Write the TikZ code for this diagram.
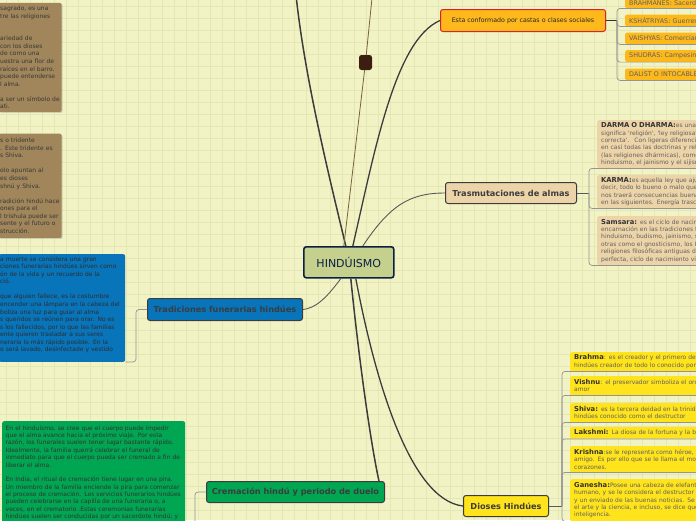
\documentclass[tikz,border=0pt]{standalone}
\usepackage{fontspec}
\setmainfont{DejaVu Sans}
\usetikzlibrary{positioning,calc,shadows}
\definecolor{PaperBg}{RGB}{242,243,196}
\definecolor{GridLn}{RGB}{228,231,180}
\definecolor{CoreFill}{RGB}{196,208,140}
\definecolor{CoreLine}{RGB}{12,32,70}
\definecolor{CasteOrange}{RGB}{253,184,28}
\definecolor{CasteRed}{RGB}{214,35,48}
\definecolor{SoulTan}{RGB}{236,212,168}
\definecolor{FuneralBlue}{RGB}{8,116,186}
\definecolor{CremGreen}{RGB}{0,166,82}
\definecolor{GodYellow}{RGB}{255,227,27}
\definecolor{SymbolBrown}{RGB}{160,134,90}
\definecolor{KnotBrown}{RGB}{60,30,16}
\definecolor{InkGray}{RGB}{60,60,62}
\definecolor{ThreadBrown}{RGB}{120,96,64}
\newcommand{\leadword}[1]{{\fontsize{6.8}{7.4}\selectfont\bfseries\color{black!80}#1}}
\tikzset{
	topic/.style={draw=InkGray,line width=1pt,rounded corners=2.5pt,inner sep=0pt,anchor=north west,
		font=\bfseries\fontsize{8.2}{9}\selectfont,text=InkGray},
	leaf/.style={rounded corners=2pt,inner xsep=4pt,inner ysep=0pt,anchor=north west,align=left,
		text width=220pt,font=\fontsize{6}{7.4}\selectfont,text=black!62},
	note/.style={rounded corners=2pt,inner xsep=1.5pt,anchor=north west,align=left,
		font=\fontsize{6}{7.57}\selectfont},
	link/.style={draw=InkGray,line width=1.5pt},
	twig/.style={draw=black!65,line width=0.9pt},
	thread/.style={draw=ThreadBrown,line width=0.8pt},
	bracket/.style={draw=black!42,line width=0.7pt,rounded corners=3pt},
}
\begin{document}
\begin{tikzpicture}[x=1pt,y=-1pt]
	\useasboundingbox (0,0) rectangle (696,520);
	\clip (0,0) rectangle (696,520);
	\fill[PaperBg] (0,0) rectangle (696,520);
	\foreach \gx in {6,18,...,696} \draw[GridLn,line width=0.6pt] (\gx,0) -- (\gx,520);
	\foreach \gy in {6,18,...,520} \draw[GridLn,line width=0.6pt] (0,\gy) -- (696,\gy);

	% main topics
	\node[topic,fill=CoreFill,draw=CoreLine,line width=1.6pt,minimum width=90pt,minimum height=31pt,
		font=\fontsize{11}{13}\selectfont,text=CoreLine] (core) at (303,246) {HINDÚISMO};
	\node[topic,fill=CasteOrange,draw=CasteRed,minimum width=165pt,minimum height=22pt,
		font=\fontsize{6.3}{8}\selectfont,text=black!85] (castes) at (440,9) {Esta conformado por castas o clases sociales};
	\node[topic,fill=SoulTan,minimum width=131pt,minimum height=21pt] (souls) at (445,182) {Trasmutaciones de almas};
	\node[topic,fill=FuneralBlue,minimum width=155pt,minimum height=22pt] (funeral) at (147,298) {Tradiciones funerarias hindúes};
	\node[topic,fill=CremGreen,minimum width=178pt,minimum height=21pt] (cremation) at (206,481) {Cremación hindú y periodo de duelo};
	\node[topic,fill=GodYellow,minimum width=85pt,minimum height=21pt] (gods) at (463,495) {Dioses Hindúes};
	\node[fill=KnotBrown,rounded corners=2.5pt,minimum width=13pt,minimum height=15pt,inner sep=0pt] (knot) at (365.5,62.5) {};
	\coordinate (offTopLeft) at (296,-5);
	\coordinate (offTopMid) at (372,-2);

	% castes
	\node[leaf,fill=CasteOrange,minimum height=11pt,font=\fontsize{6.4}{7}\selectfont] (brahmanes) at (625,-3) {BRAHMANES: Sacerdotes};
	\node[leaf,fill=CasteOrange,minimum height=11.7pt,font=\fontsize{6.4}{7}\selectfont] (kshatriyas) at (625,14.3) {KSHÁTRIYAS: Guerreros};
	\node[leaf,fill=CasteOrange,minimum height=11.7pt,font=\fontsize{6.4}{7}\selectfont] (vaishyas) at (625,32.3) {VAISHYAS: Comerciantes};
	\node[leaf,fill=CasteOrange,minimum height=11.7pt,font=\fontsize{6.4}{7}\selectfont] (shudras) at (625,50) {SHUDRAS: Campesinos};
	\node[leaf,fill=CasteOrange,minimum height=11.7pt,font=\fontsize{6.4}{7}\selectfont] (dalist) at (625,68.3) {DALIST O INTOCABLES};

	% souls
	\node[leaf,fill=SoulTan,minimum height=48pt] (dharma) at (597,120) {\leadword{DARMA O DHARMA:}es una palabra sánscrita que\\
		significa \textquotesingle religión\textquotesingle, \textquotesingle ley religiosa\textquotesingle\ o \textquotesingle conducta\\
		correcta\textquotesingle.~ Con ligeras diferencias se usa\\
		en casi todas las doctrinas y religiones de la India\\
		(las religiones dhármicas), como el budismo, el\\
		hinduismo, el jainismo y el sijismo.};
	\node[leaf,fill=SoulTan,minimum height=33pt] (karma) at (597,175) {\leadword{KARMA:}es aquella ley que ajusta el efecto a su causa, es\\
		decir, todo lo bueno o malo que hacemos en esta vida\\
		nos traerá consecuencias buenas o malas en esta o\\
		en las siguientes. Energía trascendente.};
	\node[leaf,fill=SoulTan,minimum height=49pt] (samsara) at (597,216) {\leadword{Samsara:} es el ciclo de nacimiento, vida, muerte y\\
		encarnación en las tradiciones filosóficas de la India\\
		hinduismo, budismo, jainismo, sijismo y\\
		otras como el gnosticismo, los Rosacruces y las\\
		religiones filosóficas antiguas de la Grecia\\
		perfecta, ciclo de nacimiento vida y muerte.};

	% gods
	\node[leaf,fill=GodYellow,minimum height=19pt] (brahma) at (570,352) {\leadword{Brahma}: es el creador y el primero de la trimurti\\
		hindúes creador de todo lo conocido por el hombre};
	\node[leaf,fill=GodYellow,minimum height=19pt] (vishnu) at (570,376) {\leadword{Vishnu}: el preservador simboliza el orden y el\\
		amor};
	\node[leaf,fill=GodYellow,minimum height=19pt] (shiva) at (570,403) {\leadword{Shiva:} es la tercera deidad en la trinidad de los\\
		hindúes conocido como el destructor};
	\node[leaf,fill=GodYellow,minimum height=11.5pt] (lakshmi) at (570,427) {\leadword{Lakshmi:} La diosa de la fortuna y la belleza};
	\node[leaf,fill=GodYellow,minimum height=26pt] (krishna) at (570,446) {\leadword{Krishna}:se le representa como héroe, líder y\\
		amigo. Es por ello que se le llama el morador de los\\
		corazones.};
	\node[leaf,fill=GodYellow,minimum height=42pt] (ganesha) at (570,479) {\leadword{Ganesha:}Posee una cabeza de elefante y cuerpo\\
		humano, y se le considera el destructor de obstáculos\\
		y un enviado de las buenas noticias. Se le asocia con\\
		el arte y la ciencia, e incluso, se dice que otorga\\
		inteligencia.};

	% notes on the left
	\node[note,fill=SymbolBrown,text=black!78,inner ysep=3pt,text width=60pt,
		drop shadow={shadow xshift=1pt,shadow yshift=-1pt,opacity=0.3}] (lotusNote) at (-1.5,2.7) {sagrado, es una\\
		tre las religiones\\[15.14pt]
		ariedad de\\
		con los dioses\\
		de como una\\
		uestra una flor de\\
		raíces en el barro.\\
		 puede entenderse\\
		l alma.\\[7.57pt]
		a ser un símbolo de\\
		ati.};
	\node[note,fill=SymbolBrown,text=black!78,inner ysep=4.4pt,text width=60pt,
		drop shadow={shadow xshift=1pt,shadow yshift=-1pt,opacity=0.3}] (trishulaNote) at (-1.5,133.5) {s o tridente\\
		. Este tridente es\\
		s Shiva.\\[7.57pt]
		olo apuntan al\\
		es dioses\\
		shnú y Shiva.\\[7.57pt]
		radición hindú hace\\
		ones para el\\
		l trishula puede ser\\
		sente y el futuro o\\
		strucción.};
	\node[note,fill=FuneralBlue,text=black!82,inner ysep=2.3pt,text width=123.5pt] (funeralNote) at (-1.5,254) {a muerte se considera una gran\\
		ciones funerarias hindúes sirven como\\
		ón de la vida y un recuerdo de la\\
		ció.\\[7.57pt]
		que alguien fallece, es la costumbre\\
		encender una lámpara en la cabeza del\\
		boliza una luz para guiar al alma\\
		s queridos se reúnen para orar. No es\\
		s los fallecidos, por lo que las familias\\
		ente quieren trasladar a sus seres\\
		neraria lo más rápido posible. En la\\
		o será lavado, desinfectado y vestido\\
		\mbox{}};
	\node[note,fill=CremGreen,text=black!80,inner xsep=3.5pt,inner ysep=4.5pt,text width=176pt,
		font=\fontsize{6}{7.35}\selectfont] (cremationNote) at (2,421) {En el hinduismo, se cree que el cuerpo puede impedir\\
		que el alma avance hacia el próximo viaje. Por esta\\
		razón, los funerales suelen tener lugar bastante rápido.\\
		Idealmente, la familia querrá celebrar el funeral de\\
		inmediato para que el cuerpo pueda ser cremado a fin de\\
		liberar el alma.\\[7.35pt]
		En India, el ritual de cremación tiene lugar en una pira.\\
		Un miembro de la familia enciende la pira para comenzar\\
		el proceso de cremación. Los servicios funerarios hindúes\\
		pueden celebrarse en la capilla de una funeraria o, a\\
		veces, en el crematorio .Estas ceremonias funerarias\\
		hindúes suelen ser conducidas por un sacerdote hindú; y};

	% connectors from the core
	\draw[link] ([xshift=-3pt]core.north) .. controls (330,180) and (305,80) .. (offTopLeft);
	\draw[thread] ([xshift=-5pt]core.north) -- (knot);
	\draw[thread] (knot) -- (offTopMid);
	\draw[link,line width=1.3pt] ([xshift=4pt]core.north) .. controls (375,150) and (395,40) .. (castes.west);
	\draw[twig] ([xshift=14pt]core.north) .. controls (390,205) and (410,193) .. (souls.west);
	\draw[twig] ([xshift=-8pt]core.south) .. controls (325,300) and (315,308) .. (funeral.east);
	\draw[link] ([xshift=2pt]core.south) .. controls (360,370) and (372,450) .. ([xshift=-6pt]cremation.north east);
	\draw[link,line width=1.3pt] ([xshift=7pt]core.south) .. controls (375,380) and (410,500) .. (gods.west);

	% brackets
	\draw[twig,draw=black!80] (castes.east) -- ++(11,0) coordinate (casteFork);
	\foreach \leaf in {brahmanes,kshatriyas,vaishyas,shudras,dalist}
		\draw[bracket] (casteFork) |- (\leaf.south east);
	\draw[twig] (souls.east) -- ++(12,0) coordinate (soulFork);
	\foreach \leaf in {dharma,karma,samsara}
		\draw[bracket] (soulFork) |- (\leaf.south east);
	\draw[twig] (gods.east) -- ++(13,0) coordinate (godFork);
	\foreach \leaf in {brahma,vishnu,shiva,lakshmi,krishna,ganesha}
		\draw[bracket] (godFork) |- (\leaf.south east);
	\draw[bracket] (funeral.west) -- ++(-11,0) coordinate (funeralFork) |- (funeralNote.south east);
	\draw[bracket] (cremation.west) -- ++(-11,0) coordinate (cremFork) |- (cremationNote.south east);
\end{tikzpicture}
\end{document}
